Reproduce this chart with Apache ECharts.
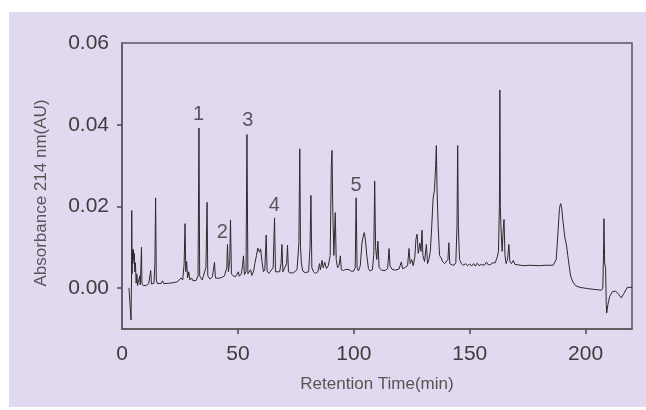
<!DOCTYPE html>
<html>
<head>
<meta charset="utf-8">
<script src="https://cdn.jsdelivr.net/npm/echarts@6/dist/echarts.min.js"></script>
<style>
  html, body { margin: 0; padding: 0; background: #fff; }
  #chart { width: 646px; height: 410px; }
</style>
</head>
<body>
<div id="chart"></div>
<script>
// 色谱数据 [保留时间(min), 吸光度(AU)]
const earlyRun = [
    [3.0, 0.0000], [3.6, 0.0002], [3.9, -0.0078], [4.1, 0.0020], [4.2, 0.0190],
    [4.35, 0.0035], [4.5, 0.0092], [4.7, 0.0060], [4.9, 0.0095], [5.1, 0.0070],
    [5.3, 0.0085], [5.5, 0.0040], [5.8, 0.0062], [6.1, 0.0012], [6.4, 0.0035],
    [6.7, 0.0006], [7.2, 0.0008], [7.6, 0.0030], [7.9, 0.0008], [8.2, 0.0010],
    [8.4, 0.0100], [8.6, 0.0012], [9.2, 0.0006], [10.5, 0.0007], [11.5, 0.0011],
    [12.4, 0.0043], [12.7, 0.0010], [13.8, 0.0012], [14.2, 0.0060], [14.5, 0.0221],
    [14.8, 0.0020], [15.3, 0.0011], [17.0, 0.0012], [17.5, 0.0018], [18.0, 0.0011],
    [20.0, 0.0012], [22.0, 0.0013], [24.0, 0.0016], [24.8, 0.0015], [25.5, 0.0025],
    [26.2, 0.0020], [26.8, 0.0060], [27.2, 0.0158], [27.5, 0.0040], [27.9, 0.0065],
    [28.3, 0.0025], [28.8, 0.0040], [29.3, 0.0020], [30.0, 0.0025], [30.6, 0.0018],
    [31.3, 0.0022], [32.0, 0.0019], [32.8, 0.0030], [33.2, 0.0392], [33.5, 0.0030],
    [34.0, 0.0025], [34.6, 0.0020], [35.2, 0.0022], [36.2, 0.0050], [36.7, 0.0210],
    [37.0, 0.0030], [38.0, 0.0022], [39.0, 0.0028], [39.9, 0.0063], [40.3, 0.0025],
    [41.5, 0.0024], [43.0, 0.0026], [44.2, 0.0030], [44.6, 0.0027], [45.2, 0.0050],
    [45.5, 0.0107], [45.9, 0.0040], [46.5, 0.0070], [46.8, 0.0167], [47.2, 0.0035],
    [48.0, 0.0030], [49.0, 0.0028], [50.2, 0.0040], [50.6, 0.0029], [51.5, 0.0035],
    [52.0, 0.0055], [52.4, 0.0079], [52.8, 0.0033], [53.5, 0.0040], [53.9, 0.0376],
    [54.3, 0.0035], [55.0, 0.0032], [55.5, 0.0045], [56.0, 0.0031]
];
const midRun = [
    [56.8, 0.0042], [57.3, 0.0060], [58.0, 0.0080], [58.6, 0.0098], [59.3, 0.0088],
    [59.8, 0.0096], [60.4, 0.0065], [61.0, 0.0040], [61.6, 0.0045], [62.2, 0.0130],
    [62.6, 0.0042], [63.3, 0.0036], [64.0, 0.0035], [65.2, 0.0050], [65.8, 0.0172],
    [66.2, 0.0040], [67.0, 0.0036], [68.0, 0.0040], [68.6, 0.0060], [69.0, 0.0107],
    [69.4, 0.0040], [70.2, 0.0038], [71.0, 0.0060], [71.4, 0.0105], [71.8, 0.0040],
    [72.8, 0.0037], [74.0, 0.0038], [75.5, 0.0045], [76.3, 0.0110], [76.7, 0.0341],
    [77.0, 0.0100], [77.4, 0.0060], [78.0, 0.0042], [79.0, 0.0038], [80.5, 0.0040],
    [81.1, 0.0100], [81.5, 0.0227], [81.9, 0.0050], [82.6, 0.0040], [83.5, 0.0036],
    [84.5, 0.0040], [85.2, 0.0060], [85.6, 0.0045], [86.3, 0.0068], [86.8, 0.0050],
    [87.5, 0.0063], [88.2, 0.0048], [89.0, 0.0055], [89.8, 0.0080], [90.3, 0.0300],
    [90.6, 0.0337], [90.9, 0.0200], [91.4, 0.0080], [92.0, 0.0185], [92.4, 0.0070],
    [93.0, 0.0050], [93.6, 0.0055], [94.2, 0.0079], [94.6, 0.0045], [95.5, 0.0043],
    [96.5, 0.0046], [97.3, 0.0042], [98.0, 0.0045], [99.0, 0.0041], [100.0, 0.0042],
    [100.6, 0.0050], [101.0, 0.0221], [101.4, 0.0050], [102.0, 0.0042], [102.8, 0.0055],
    [103.5, 0.0110], [104.0, 0.0125], [104.5, 0.0136], [105.0, 0.0118], [105.6, 0.0080],
    [106.3, 0.0048], [107.0, 0.0042], [108.0, 0.0045], [108.6, 0.0080], [109.0, 0.0262],
    [109.4, 0.0100], [109.9, 0.0070], [110.4, 0.0115], [110.9, 0.0050], [112.0, 0.0044],
    [113.5, 0.0043], [114.6, 0.0048], [115.2, 0.0097], [115.6, 0.0055], [116.5, 0.0046],
    [118.0, 0.0044], [119.5, 0.0047], [120.5, 0.0064], [121.0, 0.0048], [122.0, 0.0050]
];
const lateRun = [
    [123.2, 0.0055], [123.8, 0.0097], [124.3, 0.0060], [125.0, 0.0070], [125.6, 0.0055],
    [126.3, 0.0075], [126.8, 0.0120], [127.3, 0.0132], [127.8, 0.0085], [128.5, 0.0110],
    [129.0, 0.0090], [129.4, 0.0142], [129.8, 0.0080], [130.5, 0.0065], [131.3, 0.0107],
    [131.8, 0.0060], [132.4, 0.0070], [133.0, 0.0090], [133.6, 0.0150], [134.2, 0.0220],
    [134.8, 0.0241], [135.3, 0.0300], [135.6, 0.0349], [135.9, 0.0240], [136.4, 0.0150],
    [137.0, 0.0080], [137.6, 0.0075], [138.3, 0.0065], [139.2, 0.0060], [140.0, 0.0058],
    [140.6, 0.0070], [141.0, 0.0111], [141.4, 0.0060], [142.3, 0.0057], [143.2, 0.0056],
    [144.0, 0.0062], [144.5, 0.0150], [144.8, 0.0349], [145.1, 0.0150], [145.6, 0.0070],
    [146.4, 0.0060], [147.3, 0.0056], [148.2, 0.0060], [149.0, 0.0055], [150.0, 0.0059],
    [150.8, 0.0054], [151.7, 0.0060], [152.4, 0.0054], [153.2, 0.0061], [154.0, 0.0055],
    [155.0, 0.0058], [156.3, 0.0056], [157.2, 0.0064], [158.0, 0.0057], [159.0, 0.0058],
    [160.0, 0.0062], [161.0, 0.0062], [161.8, 0.0075], [162.4, 0.0090], [162.8, 0.0200],
    [163.0, 0.0485], [163.2, 0.0200], [163.6, 0.0130], [164.0, 0.0090], [164.4, 0.0140],
    [164.8, 0.0168], [165.2, 0.0080], [165.7, 0.0060], [166.3, 0.0070], [166.9, 0.0107],
    [167.3, 0.0065], [168.0, 0.0060], [168.8, 0.0068], [169.5, 0.0058], [170.3, 0.0062],
    [171.0, 0.0057], [173.0, 0.0055], [176.0, 0.0056], [180.0, 0.0055], [183.0, 0.0056]
];
const washout = [
    [186.0, 0.0056], [187.3, 0.0070], [188.0, 0.0130], [188.7, 0.0195], [189.2, 0.0207],
    [189.6, 0.0200], [190.3, 0.0160], [191.0, 0.0125], [191.8, 0.0103], [192.3, 0.0080],
    [193.0, 0.0050], [193.5, 0.0030], [194.5, 0.0015], [195.7, 0.0006], [197.5, 0.0002],
    [200.7, -0.0001], [203.5, -0.0003], [206.8, -0.0005], [207.4, 0.0000], [207.7, 0.0080],
    [207.9, 0.0170], [208.2, 0.0060], [208.6, 0.0050], [208.9, -0.0040], [209.1, -0.0061],
    [209.6, -0.0040], [210.4, -0.0020], [211.5, -0.0009], [212.9, -0.0007], [214.2, -0.0015],
    [215.4, -0.0024], [216.6, -0.0012], [218.0, 0.0002], [220.0, 0.0002]
];

// 峰编号及其标注位置
const peakNames = ["1", "2", "3", "4", "5"];
const peakLabelTime = [33.0, 43.3, 54.3, 65.7, 101.0];
const peakLabelAbs = [0.0424, 0.0137, 0.0410, 0.0202, 0.0251];

// 刻度
const xTicks = [0, 50, 100, 150, 200];
const xTickMarks = [50, 100, 150, 200];
const yTicks = [0, 0.02, 0.04, 0.06];
const yTickMarks = [0, 0.02, 0.04];

const trace = earlyRun.concat(midRun, lateRun, washout);

const fontFamily = "'Liberation Sans', Arial, sans-serif";

let myChart = echarts.init(document.getElementById('chart'));
let option = {
    animation: false,
    backgroundColor: '#fff',
    // 淡紫色底
    graphic: [{
        type: 'rect',
        z: -10,
        silent: true,
        shape: { x: 9, y: 12, width: 637, height: 395 },
        style: { fill: '#e1d9f0' }
    }],
    grid: {
        left: 122,
        top: 43,
        right: 14,
        bottom: 81,
        show: true,
        backgroundColor: 'transparent',
        borderColor: '#5a5a5a',
        borderWidth: 1.5
    },
    xAxis: {
        type: 'value',
        min: 0,
        max: 220,
        name: 'Retention Time(min)',
        nameLocation: 'middle',
        nameGap: 47,
        nameTextStyle: { color: '#555', fontSize: 17, fontFamily: fontFamily },
        axisLine: { show: true, onZero: false, lineStyle: { color: '#5a5a5a', width: 1.5 } },
        axisTick: {
            show: true,
            length: 5,
            customValues: xTickMarks,
            lineStyle: { color: '#4a4a4a', width: 1.5 }
        },
        axisLabel: {
            customValues: xTicks,
            margin: 15,
            color: '#3d3d3d',
            fontSize: 21,
            fontFamily: fontFamily
        },
        splitLine: { show: false }
    },
    yAxis: {
        type: 'value',
        min: -0.01,
        max: 0.06,
        name: 'Absorbance 214 nm(AU)',
        nameLocation: 'middle',
        nameGap: 72,
        nameTextStyle: {
            color: '#555',
            fontSize: 17,
            fontFamily: fontFamily,
            padding: [0, 14, 0, 0]
        },
        axisLine: { show: true, onZero: false, lineStyle: { color: '#5a5a5a', width: 1.5 } },
        axisTick: {
            show: true,
            length: 5,
            customValues: yTickMarks,
            lineStyle: { color: '#4a4a4a', width: 1.5 }
        },
        axisLabel: {
            customValues: yTicks,
            margin: 13,
            color: '#3d3d3d',
            fontSize: 21,
            fontFamily: fontFamily,
            formatter: function (v) { return v.toFixed(2); }
        },
        splitLine: { show: false }
    },
    series: [{
        name: 'trace',
        type: 'line',
        data: trace,
        showSymbol: false,
        sampling: 'none',
        silent: true,
        lineStyle: { color: '#2b2b2b', width: 1 }
    }, {
        name: 'peaks',
        type: 'scatter',
        symbolSize: 1,
        silent: true,
        itemStyle: { color: 'rgba(0,0,0,0)' },
        label: {
            show: true,
            position: 'inside',
            formatter: '{b}',
            color: '#333',
            fontSize: 20,
            fontFamily: fontFamily
        },
        data: peakNames.map(function (n, i) {
            return { name: n, value: [peakLabelTime[i], peakLabelAbs[i]] };
        })
    }]
};

myChart.setOption(option);
window.addEventListener("resize", function () {
    myChart.resize();
});
</script>
</body>
</html>
